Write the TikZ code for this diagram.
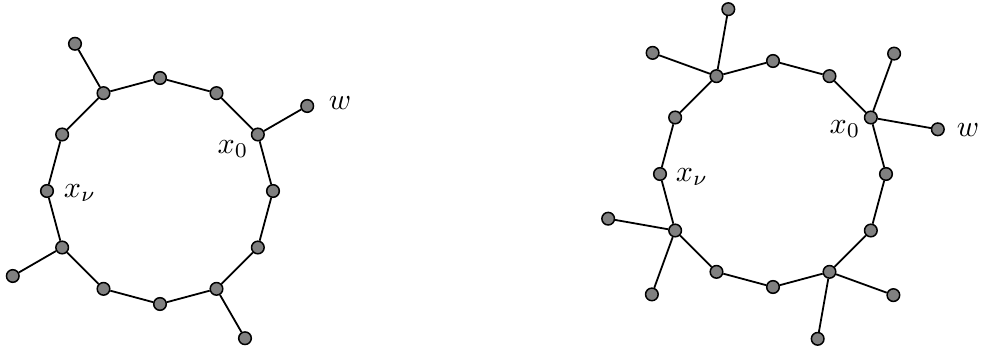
\documentclass[tikz,border=0pt]{standalone}
\begin{document}
\begin{tikzpicture}[x=0.0117cm, y=0.0117cm,
        vertex/.style={draw, circle, fill=gray, minimum size=4.2pt, inner sep=0pt, line width=0.5pt},
        edge/.style={line width=0.6pt}]
    \useasboundingbox (0,0) rectangle (981,354);
    % left graph
    \begin{scope}[shift={(160,163)}]
        \foreach \i in {0,...,11}
            \node[vertex] (a\i) at (\i*30:113) {};
        \node[vertex] (aw) at (30:170) {};
        \node[vertex] (ap4) at (120:170) {};
        \node[vertex] (ap7) at (210:170) {};
        \node[vertex] (ap10) at (300:170) {};
    \end{scope}
    \foreach \i/\j in {a0/a1, a1/a2, a2/a3, a3/a4, a4/a5, a5/a6, a6/a7, a7/a8, a8/a9, a9/a10, a10/a11, a11/a0, a1/aw, a4/ap4, a7/ap7, a10/ap10}
        \draw[edge] (\i) -- (\j);
    \node (ax0) at (233,205) {$x_0$};
    \node (axn) at (80,161) {$x_\nu$};
    \node (alw) at (340,251) {$w$};
    % right graph
    \begin{scope}[shift={(773,180)}]
        \foreach \i in {0,...,11}
            \node[vertex] (b\i) at (\i*30:113) {};
    \end{scope}
    \node[vertex] (bw) at ([shift={(-10:68)}]b1) {};
    \node[vertex] (bp1) at ([shift={(70:68)}]b1) {};
    \node[vertex] (bp4a) at ([shift={(80:68)}]b4) {};
    \node[vertex] (bp4b) at ([shift={(160:68)}]b4) {};
    \node[vertex] (bp7a) at ([shift={(170:68)}]b7) {};
    \node[vertex] (bp7b) at ([shift={(250:68)}]b7) {};
    \node[vertex] (bp10a) at ([shift={(260:68)}]b10) {};
    \node[vertex] (bp10b) at ([shift={(340:68)}]b10) {};
    \foreach \i/\j in {b0/b1, b1/b2, b2/b3, b3/b4, b4/b5, b5/b6, b6/b7, b7/b8, b8/b9, b9/b10, b10/b11, b11/b0, b1/bw, b1/bp1, b4/bp4a, b4/bp4b, b7/bp7a, b7/bp7b, b10/bp10a, b10/bp10b}
        \draw[edge] (\i) -- (\j);
    \node (bx0) at (845,225) {$x_0$};
    \node (bxn) at (692,177) {$x_\nu$};
    \node (blw) at (968,224) {$w$};
\end{tikzpicture}
\end{document}
